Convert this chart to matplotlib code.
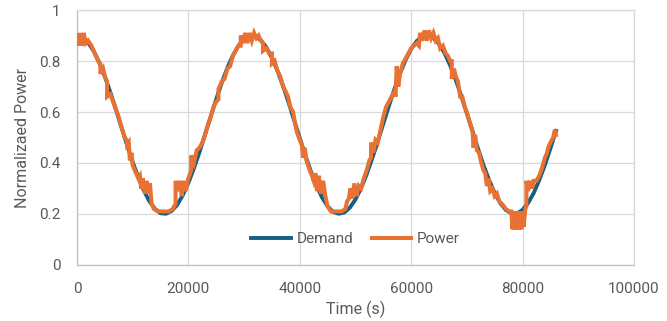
import matplotlib
matplotlib.use("Agg")
import matplotlib.pyplot as plt

# ── Data ────────────────────────────────────────────────────────────────────
demand_t = list(range(0, 87000, 1000))
demand_v = [
    0.900, 0.893, 0.872, 0.839, 0.794, 0.739, 0.677, 0.609, 0.539, 0.470,
    0.404, 0.344, 0.292, 0.250, 0.220, 0.203, 0.201, 0.212, 0.236, 0.274,
    0.322, 0.379, 0.443, 0.512, 0.581, 0.650, 0.715, 0.773, 0.822, 0.860,
    0.886, 0.899, 0.897, 0.882, 0.854, 0.813, 0.762, 0.702, 0.637, 0.567,
    0.498, 0.430, 0.367, 0.311, 0.265, 0.230, 0.208, 0.201, 0.206, 0.225,
    0.257, 0.301, 0.355, 0.417, 0.484, 0.554, 0.623, 0.690, 0.751, 0.804,
    0.847, 0.878, 0.896, 0.900, 0.890, 0.867, 0.831, 0.783, 0.727, 0.663,
    0.595, 0.526, 0.457, 0.391, 0.333, 0.282, 0.243, 0.216, 0.202, 0.202,
    0.216, 0.243, 0.282, 0.333, 0.391, 0.457, 0.526,
]

power_t = [
    0, 300, 600, 900, 1200, 1600, 2000, 2600, 3200, 3800, 4200, 4200, 4700,
    5000, 5400, 5400, 6000, 6500, 7000, 7500, 8000, 8600, 8900, 9000, 9300,
    9500, 9800, 10000, 10600, 11000, 11300, 11500, 11800, 12200, 12500,
    12800, 13100, 13400, 13800, 14500, 15500, 16500, 17200, 17700, 17700,
    18200, 18500, 18800, 19100, 19500, 20000, 20500, 20500, 21000, 21500,
    22000, 22500, 23000, 23500, 24000, 24500, 25000, 25400, 25400, 26000,
    26500, 27000, 27500, 28000, 28500, 29000, 29400, 29400, 29800, 30200,
    30600, 31000, 31400, 31800, 32200, 32600,
    33000, 33400, 33400, 34000, 34500, 35000, 35000, 35500, 36000, 36500,
    37000, 37500, 37900, 38300, 38800, 39200, 39500, 40000, 40400, 40600,
    40900, 41200, 41800, 42200, 42500, 42800, 43100, 43400, 43800, 44200,
    44600, 45000, 45600, 46500, 47500, 48200, 48500, 48800, 49100, 49400,
    49800, 50200, 50600, 51000, 51500, 52000, 52500, 52800, 52800, 53200,
    53600, 54000, 54500, 55000, 55500, 56000, 56500, 57000, 57200, 57400,
    57700, 58000, 58500, 59000, 59500, 60000, 60500, 61000, 61400, 61600,
    62000, 62400, 62800, 63200, 63600, 64000, 64400,
    64800, 65200, 65700, 66200, 66600, 67000, 67300, 67300, 67700, 68000,
    68400, 68800, 69200, 69600, 70000, 70500, 71000, 71200, 71500, 71800,
    72200, 72600, 73000, 73300, 73600, 73900, 74200, 74600, 75000, 75400,
    75800, 76300, 77000, 77600, 78000, 78200, 78400, 78600, 78800, 79000,
    79200, 79400, 79600, 79800, 80000, 80200, 80500, 80700, 80700, 81000,
    81300, 81700, 82000, 82500, 83000,
    83500, 84000, 84400, 84600, 85000, 85500, 85800, 86000,
]
power_v = [
    0.90, 0.86, 0.91, 0.86, 0.91, 0.87, 0.88, 0.86, 0.83, 0.80, 0.79, 0.75, 0.77,
    0.74, 0.72, 0.66, 0.67, 0.64, 0.61, 0.58, 0.54, 0.50, 0.49, 0.47, 0.48,
    0.41, 0.44, 0.39, 0.36, 0.34, 0.35, 0.30, 0.34, 0.28, 0.33,
    0.28, 0.32, 0.24, 0.22, 0.21, 0.21, 0.21, 0.22, 0.24, 0.33,
    0.29, 0.33, 0.27, 0.33, 0.29, 0.34, 0.37, 0.43, 0.40, 0.45,
    0.46, 0.48, 0.51, 0.55, 0.58, 0.62, 0.64, 0.65, 0.69, 0.72,
    0.73, 0.77, 0.78, 0.82, 0.84, 0.86, 0.86, 0.90, 0.87, 0.91,
    0.87, 0.91, 0.88, 0.91, 0.89, 0.90,
    0.88, 0.87, 0.84, 0.85, 0.83, 0.83, 0.79, 0.80, 0.76, 0.74,
    0.70, 0.68, 0.66, 0.62, 0.60, 0.55, 0.52, 0.49, 0.47, 0.42,
    0.46, 0.41, 0.37, 0.35, 0.33, 0.36, 0.29, 0.35, 0.28, 0.33,
    0.27, 0.23, 0.21, 0.21, 0.21, 0.22, 0.25, 0.26, 0.30, 0.26,
    0.32, 0.27, 0.31, 0.30, 0.34, 0.37, 0.41, 0.42, 0.48, 0.44,
    0.49, 0.48, 0.53, 0.58, 0.62, 0.64, 0.66, 0.68, 0.66, 0.78,
    0.70, 0.75, 0.79, 0.81, 0.83, 0.85, 0.86, 0.87, 0.86, 0.91,
    0.88, 0.92, 0.88, 0.92, 0.89, 0.91, 0.88,
    0.89, 0.85, 0.86, 0.83, 0.82, 0.80, 0.80, 0.73, 0.77, 0.74,
    0.72, 0.66, 0.66, 0.62, 0.60, 0.56, 0.53, 0.46, 0.51, 0.45,
    0.44, 0.40, 0.37, 0.36, 0.31, 0.34, 0.29, 0.30, 0.27, 0.28,
    0.25, 0.24, 0.22, 0.21, 0.21, 0.14, 0.21, 0.14, 0.21, 0.14,
    0.21, 0.14, 0.21, 0.14, 0.21, 0.15, 0.22, 0.23, 0.33, 0.29,
    0.33, 0.30, 0.33, 0.33, 0.35,
    0.38, 0.42, 0.44, 0.46, 0.48, 0.50, 0.53, 0.51,
]

x_ticks = [0, 20000, 40000, 60000, 80000, 100000]
y_ticks = [0, 0.2, 0.4, 0.6, 0.8, 1]
y_tick_labels = ["0", "0.2", "0.4", "0.6", "0.8", "1"]

# ── Style ───────────────────────────────────────────────────────────────────
BLUE = "#156082"
ORANGE = "#E97132"
TEXT = "#595959"
GRID = "#D9D9D9"
plt.rcParams["font.family"] = ["Roboto", "DejaVu Sans"]

fig = plt.figure(figsize=(6.67, 3.21), dpi=100)
fig.patch.set_facecolor("white")
ax = fig.add_axes([0.1154, 0.1745, 0.835, 0.7943])

ax.plot(demand_t, demand_v, color=BLUE, lw=2.8, label="Demand",
        solid_joinstyle="round", zorder=3)
ax.plot(power_t, power_v, color=ORANGE, lw=2.9, label="Power",
        solid_joinstyle="miter", zorder=4)

ax.set_xlim(0, 100000)
ax.set_ylim(0, 1)
ax.set_xticks(x_ticks)
ax.set_xticklabels([str(v) for v in x_ticks])
ax.set_yticks(y_ticks)
ax.set_yticklabels(y_tick_labels)
ax.grid(True, color=GRID, lw=0.9, zorder=0)
ax.set_axisbelow(True)
for s in ax.spines.values():
    s.set_color(GRID)
    s.set_linewidth(0.9)
ax.spines["left"].set_color("#BFBFBF")
ax.spines["bottom"].set_color("#BFBFBF")
ax.tick_params(length=0, labelsize=11, colors=TEXT)
ax.tick_params(axis="y", pad=12)
ax.tick_params(axis="x", pad=12)

ax.set_xlabel("Time (s)", fontsize=11.5, color=TEXT, labelpad=4)
ax.set_ylabel("Normalizaed Power", fontsize=11.5, color=TEXT, labelpad=6)

leg = ax.legend(loc="center", bbox_to_anchor=(0.5, 0.1), ncol=2,
                frameon=False, fontsize=11, handlelength=2.6,
                handletextpad=0.35, columnspacing=1.2)
for t in leg.get_texts():
    t.set_color(TEXT)

fig.savefig("out.png", dpi=100, facecolor="white")
